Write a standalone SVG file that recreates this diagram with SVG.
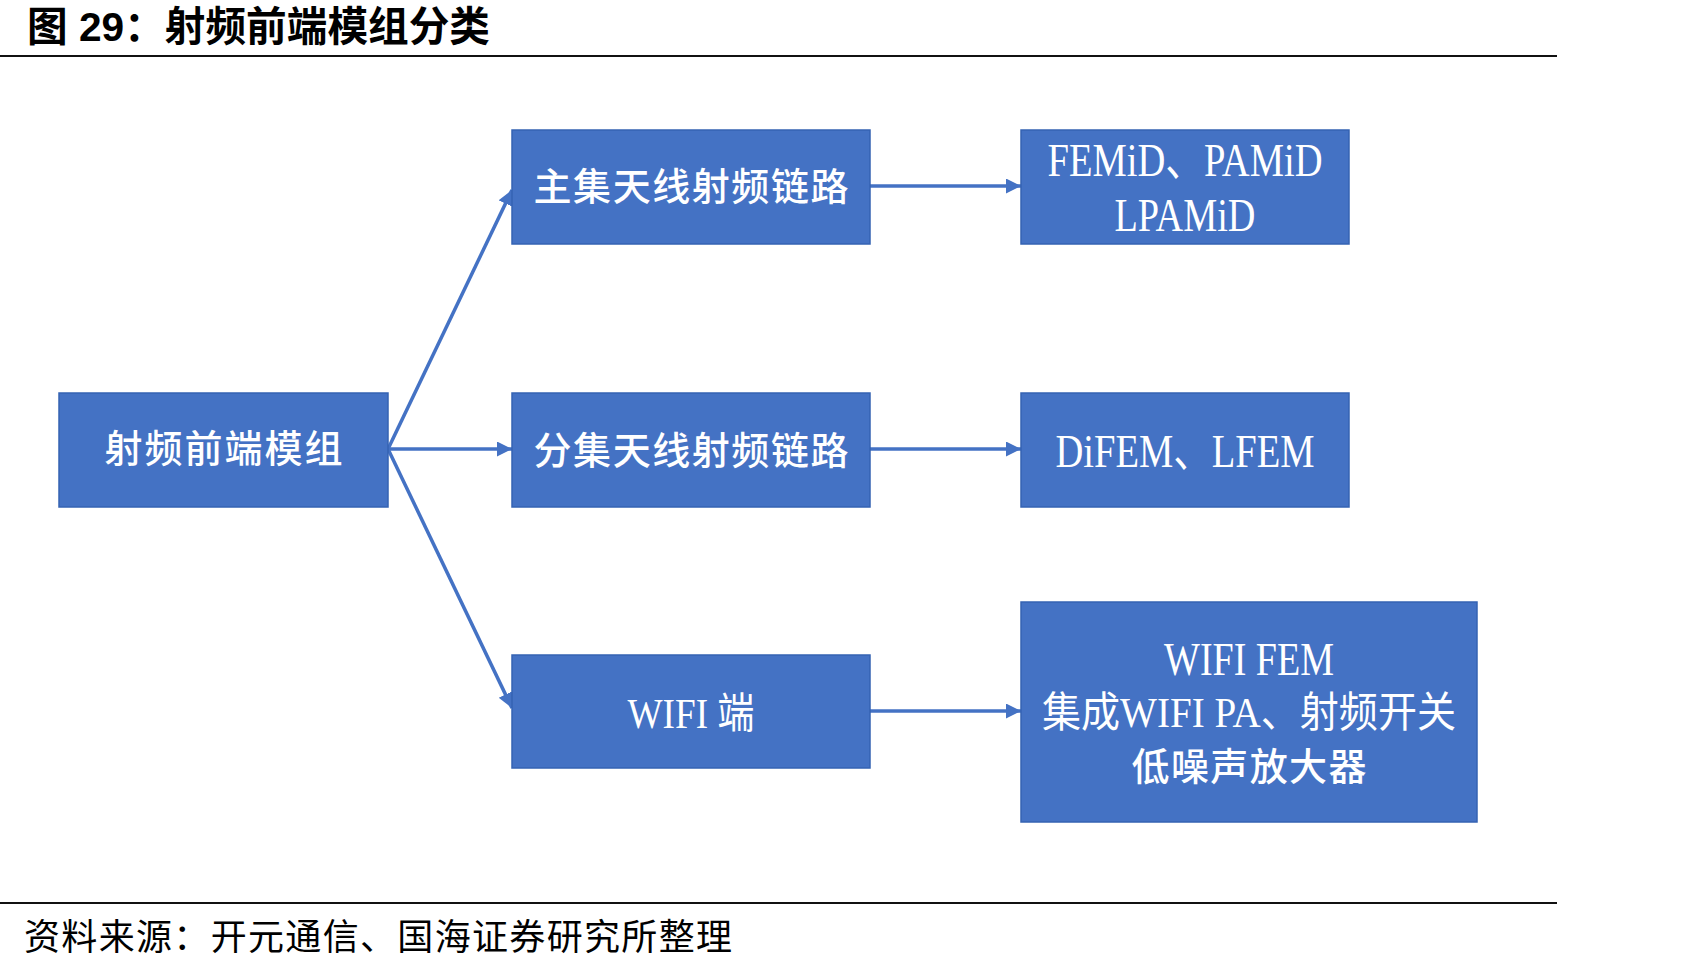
<svg xmlns="http://www.w3.org/2000/svg" width="1690" height="971" viewBox="0 0 1690 971">
<style>
.box{fill:#4472C4;stroke:#3563B3;stroke-width:1.5}
.t{fill:#fff;font-family:"Liberation Serif","Noto Sans CJK SC",serif;text-anchor:middle}
.cjk{font-size:38px;font-weight:500}
.lat{font-size:46px}
.mix{font-size:42px}
.con{stroke:#4472C4;stroke-width:3.5;fill:none}
.rule{stroke:#111;stroke-width:2}
</style>
<defs>
<marker id="ah" markerUnits="userSpaceOnUse" markerWidth="16" markerHeight="16" refX="15" refY="7.5" orient="auto">
<path d="M0,0 L15,7.5 L0,15 z" fill="#4472C4"/>
</marker>
</defs>
<rect width="1690" height="971" fill="#fff"/>
<g id="header">
<text x="27" y="41" font-family="Liberation Sans,'Noto Sans CJK SC',sans-serif" font-weight="bold" font-size="41" textLength="463" lengthAdjust="spacingAndGlyphs">图 29：射频前端模组分类</text>
<line class="rule" x1="0" y1="56" x2="1557" y2="56"/>
</g>
<g id="connectors">
<line class="con" x1="388" y1="449" x2="512" y2="190" marker-end="url(#ah)"/>
<line class="con" x1="388" y1="449" x2="512" y2="449" marker-end="url(#ah)"/>
<line class="con" x1="388" y1="449" x2="512" y2="708" marker-end="url(#ah)"/>
<line class="con" x1="870" y1="186" x2="1021" y2="186" marker-end="url(#ah)"/>
<line class="con" x1="870" y1="449" x2="1021" y2="449" marker-end="url(#ah)"/>
<line class="con" x1="870" y1="711" x2="1021" y2="711" marker-end="url(#ah)"/>
</g>
<g id="n-root">
<rect class="box" x="59" y="393" width="329" height="114"/>
<text class="t cjk" x="223.5" y="462" textLength="238" lengthAdjust="spacing">射频前端模组</text>
</g>
<g id="n-main">
<rect class="box" x="512" y="130" width="358" height="114"/>
<text class="t cjk" x="691" y="200" textLength="315" lengthAdjust="spacing">主集天线射频链路</text>
</g>
<g id="n-div">
<rect class="box" x="512" y="393" width="358" height="114"/>
<text class="t cjk" x="691" y="464" textLength="315" lengthAdjust="spacing">分集天线射频链路</text>
</g>
<g id="n-wifi">
<rect class="box" x="512" y="655" width="358" height="113"/>
<text class="t mix" x="691" y="728" textLength="127" lengthAdjust="spacingAndGlyphs">WIFI 端</text>
</g>
<g id="n-femid">
<rect class="box" x="1021" y="130" width="328" height="114"/>
<text class="t lat" x="1185" y="176" textLength="275" lengthAdjust="spacingAndGlyphs">FEMiD、PAMiD</text>
<text class="t lat" x="1185" y="231" textLength="141" lengthAdjust="spacingAndGlyphs">LPAMiD</text>
</g>
<g id="n-difem">
<rect class="box" x="1021" y="393" width="328" height="114"/>
<text class="t lat" x="1185" y="467" textLength="259" lengthAdjust="spacingAndGlyphs">DiFEM、LFEM</text>
</g>
<g id="n-wififem">
<rect class="box" x="1021" y="602" width="456" height="220"/>
<text class="t lat" x="1249" y="675" textLength="170" lengthAdjust="spacingAndGlyphs">WIFI FEM</text>
<text class="t mix" x="1249" y="727" textLength="414" lengthAdjust="spacingAndGlyphs">集成WIFI PA、射频开关</text>
<text class="t cjk" x="1249" y="780" textLength="235" lengthAdjust="spacing">低噪声放大器</text>
</g>
<g id="footer">
<line class="rule" x1="0" y1="903" x2="1557" y2="903"/>
<text x="24" y="950" font-family="'Liberation Serif','Noto Sans CJK SC',serif" font-size="36" textLength="708" lengthAdjust="spacing">资料来源：开元通信、国海证券研究所整理</text>
</g>
</svg>
